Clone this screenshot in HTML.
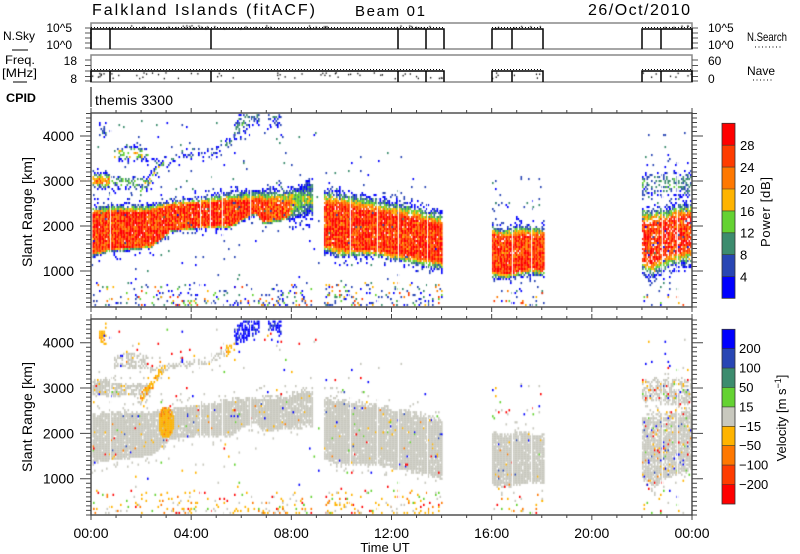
<!DOCTYPE html>
<html><head><meta charset="utf-8">
<style>
html,body{margin:0;padding:0;background:#fff;}
#wrap{position:relative;width:800px;height:554px;overflow:hidden;background:#fff;}
canvas,svg{position:absolute;left:0;top:0;}
text{font-family:"Liberation Sans",sans-serif;fill:#000;}
</style></head><body>
<div id="wrap">
<canvas id="c" width="800" height="554"></canvas>
<svg id="s" width="800" height="554" viewBox="0 0 800 554" xmlns="http://www.w3.org/2000/svg">
<text x="92" y="15" font-size="16" textLength="223" lengthAdjust="spacing">Falkland Islands (fitACF)</text>
<text x="355" y="16" font-size="15" textLength="70" lengthAdjust="spacing">Beam 01</text>
<text x="588" y="15" font-size="16" textLength="102" lengthAdjust="spacing">26/Oct/2010</text>

<rect x="91" y="23" width="601" height="26" fill="none" stroke="#888" stroke-width="1.5"/>
<rect x="91" y="55" width="601" height="27" fill="none" stroke="#888" stroke-width="1.5"/>
<path d="M85 28H91M85 33H91M85 38H91M85 43H91M85 48H91M692 28H698M692 33H698M692 38H698M692 43H698M692 48H698M85 60H91M85 65.5H91M85 71H91M85 76.5H91M85 81H91M692 60H698M692 65.5H698M692 71H698M692 76.5H698M692 81H698" stroke="#555" stroke-width="1"/>
<path d="M91 49V29H444V49M110 29V49M211 29V49M398 29V49M426 29V49M492 49V29H543V49M512 29V49M642 49V29H692V49M661 29V49" fill="none" stroke="#000" stroke-width="1.5"/>
<path d="M91 82V71H444V82M110 71V82M211 71V82M398 71V82M426 71V82M492 82V71H543V82M512 71V82M642 82V71H692V82M661 71V82" fill="none" stroke="#000" stroke-width="1.5"/>
<path d="M91 27.5H444M492 27.5H543M642 27.5H692M91 69.5H444M492 69.5H543M642 69.5H692" fill="none" stroke="#000" stroke-width="1" stroke-dasharray="1,2"/>

<text x="72" y="32" font-size="12" text-anchor="end">10^5</text>
<text x="72" y="49" font-size="12" text-anchor="end">10^0</text>
<text x="708" y="32" font-size="12">10^5</text>
<text x="708" y="49" font-size="12">10^0</text>
<text x="77" y="65" font-size="12" text-anchor="end">18</text>
<text x="77" y="83" font-size="12" text-anchor="end">8</text>
<text x="708" y="65" font-size="12">60</text>
<text x="708" y="83" font-size="12">0</text>

<text x="3" y="40" font-size="12" textLength="32" lengthAdjust="spacingAndGlyphs">N.Sky</text>
<line x1="12" y1="50" x2="28" y2="50" stroke="#000" stroke-width="1"/>
<text x="5" y="64" font-size="12" textLength="30" lengthAdjust="spacingAndGlyphs">Freq.</text>
<text x="2" y="77" font-size="12" textLength="35" lengthAdjust="spacingAndGlyphs">[MHz]</text>
<line x1="13" y1="82" x2="27" y2="82" stroke="#000" stroke-width="1"/>
<text x="6" y="102" font-size="12" font-weight="bold" textLength="30" lengthAdjust="spacingAndGlyphs">CPID</text>
<line x1="91" y1="87" x2="91" y2="107" stroke="#000" stroke-width="1"/>
<text x="95" y="105" font-size="14" textLength="78" lengthAdjust="spacing">themis 3300</text>

<text x="747" y="41" font-size="12" textLength="40" lengthAdjust="spacingAndGlyphs">N.Search</text>
<line x1="755" y1="47" x2="783" y2="47" stroke="#000" stroke-width="1" stroke-dasharray="1,2.5"/>
<text x="747" y="75" font-size="12" textLength="28" lengthAdjust="spacingAndGlyphs">Nave</text>
<line x1="753" y1="80" x2="773" y2="80" stroke="#000" stroke-width="1" stroke-dasharray="1,2.5"/>

<rect x="91" y="113" width="601" height="194" fill="none" stroke="#444" stroke-width="1.4"/>
<rect x="91" y="319" width="601" height="196" fill="none" stroke="#444" stroke-width="1.4"/>
<path id="tk" d="" stroke="#444" stroke-width="1" fill="none"/>

<g font-size="14" text-anchor="end">
<text x="74" y="141">4000</text>
<text x="74" y="186">3000</text>
<text x="74" y="231">2000</text>
<text x="74" y="276">1000</text>
<text x="74" y="347.7">4000</text>
<text x="74" y="393">3000</text>
<text x="74" y="438.4">2000</text>
<text x="74" y="483.7">1000</text>
</g>
<text transform="translate(32,212) rotate(-90)" font-size="14" text-anchor="middle" textLength="110" lengthAdjust="spacing">Slant Range [km]</text>
<text transform="translate(32,417) rotate(-90)" font-size="14" text-anchor="middle" textLength="110" lengthAdjust="spacing">Slant Range [km]</text>

<g font-size="14" text-anchor="middle">
<text x="91" y="538">00:00</text>
<text x="191.2" y="538">04:00</text>
<text x="291.3" y="538">08:00</text>
<text x="391.5" y="538">12:00</text>
<text x="491.7" y="538">16:00</text>
<text x="591.8" y="538">20:00</text>
<text x="692" y="538">00:00</text>
</g>
<text x="385" y="552" font-size="13" text-anchor="middle">Time UT</text>

<rect x="722" y="123.3" width="13" height="21.9" fill="#ff0000"/>
<rect x="722" y="145.2" width="13" height="21.9" fill="#ff3c00"/>
<rect x="722" y="167.1" width="13" height="21.9" fill="#ff7800"/>
<rect x="722" y="189" width="13" height="21.9" fill="#ffb400"/>
<rect x="722" y="210.9" width="13" height="21.9" fill="#64d232"/>
<rect x="722" y="232.8" width="13" height="21.9" fill="#3c8c6e"/>
<rect x="722" y="254.7" width="13" height="21.9" fill="#2846b4"/>
<rect x="722" y="276.6" width="13" height="21.7" fill="#0000ff"/>
<path d="M722 145.2H735M722 167.1H735M722 189H735M722 210.9H735M722 232.8H735M722 254.7H735M722 276.6H735" stroke="#333" stroke-width="0.6"/>
<rect x="722" y="123.3" width="13" height="175" fill="none" stroke="#333" stroke-width="0.8"/>
<g font-size="13">
<text x="740" y="150">28</text>
<text x="740" y="172">24</text>
<text x="740" y="194">20</text>
<text x="740" y="216">16</text>
<text x="740" y="237.5">12</text>
<text x="740" y="259.5">8</text>
<text x="740" y="281.5">4</text>
</g>
<text transform="translate(770,212) rotate(-90)" font-size="13" text-anchor="middle" textLength="70" lengthAdjust="spacing">Power [dB]</text>

<rect x="722" y="329.3" width="13" height="19.5" fill="#0000ff"/>
<rect x="722" y="348.7" width="13" height="19.5" fill="#2846b4"/>
<rect x="722" y="368.1" width="13" height="19.5" fill="#3c8c6e"/>
<rect x="722" y="387.5" width="13" height="19.5" fill="#64d232"/>
<rect x="722" y="406.9" width="13" height="19.5" fill="#c8c8be"/>
<rect x="722" y="426.3" width="13" height="19.5" fill="#ffb400"/>
<rect x="722" y="445.7" width="13" height="19.5" fill="#ff7800"/>
<rect x="722" y="465.1" width="13" height="19.5" fill="#ff3c00"/>
<rect x="722" y="484.5" width="13" height="19.5" fill="#ff0000"/>
<path d="M722 348.7H735M722 368.1H735M722 387.5H735M722 406.9H735M722 426.3H735M722 445.7H735M722 465.1H735M722 484.5H735" stroke="#333" stroke-width="0.6"/>
<rect x="722" y="329.3" width="13" height="174.7" fill="none" stroke="#333" stroke-width="0.8"/>
<g font-size="13">
<text x="739" y="353.2">200</text>
<text x="739" y="372.6">100</text>
<text x="739" y="392">50</text>
<text x="739" y="411.4">15</text>
<text x="739" y="430.8">−15</text>
<text x="739" y="450.2">−50</text>
<text x="739" y="469.6">−100</text>
<text x="739" y="489">−200</text>
</g>
<text transform="translate(786,418) rotate(-90)" font-size="13" text-anchor="middle">Velocity [m s<tspan dy="-5" font-size="9">−1</tspan><tspan dy="5">]</tspan></text>
</svg>
</div>
<script>
(function(){
var cv=document.getElementById('c'),ctx=cv.getContext('2d');
var s=2463534242;
function R(){s^=(s<<13);s>>>=0;s^=(s>>>17);s^=(s<<5);s>>>=0;return s/4294967296;}
var PC=['#0000ff','#2846b4','#3c8c6e','#64d232','#ffb400','#ff7800','#ff3c00','#ff0000'];
var GRAY='#c8c8be';
var DOTC=['#ffb400','#ffb400','#ffb400','#ff7800','#64d232','#0000ff','#ff0000','#2846b4'];
function p2y(y){return 342.7+(y-136)*1.007;}
function cell1(x,y,c){if(x<91.5||x>690.5||y<113.5||y>304.8)return;ctx.fillStyle=c;ctx.fillRect(x,y,1.6,2.1);}
function cell2(x,y,c){var yy=p2y(y);if(x<91.5||x>690.5||yy<319.5||yy>512.8)return;ctx.fillStyle=c;ctx.fillRect(x,yy,1.6,2.2);}
function interp(pts,x){
  for(var i=0;i<pts.length-1;i++){
    if(x<=pts[i+1][0]){var a=pts[i],b=pts[i+1],t=(x-a[0])/(b[0]-a[0]);if(t<0)t=0;var r=[];for(var k=1;k<6;k++)r.push(a[k]+(b[k]-a[k])*t);return r;}
  }
  return pts[pts.length-1].slice(1);
}
function band(sg){
  var pts=sg.pts,x0=pts[0][0],x1=pts[pts.length-1][0];
  var d1=sg.d1||1,d2=sg.d2||1;
  for(var x=x0;x<=x1;x+=1.5){
    var q=interp(pts,x),ot=q[0],rt=q[1],rb=q[2],ob=q[3],pk=q[4];
    var ys=Math.floor((ot-8)/2)*2;
    for(var y=ys;y<=ob+8;y+=2){
      var pres,v,p2p;
      if(y<ot||y>ob){var d=y<ot?ot-y:y-ob;pres=0.14*(1-d/9);v=R()*0.2;p2p=0.05;}
      else if(y>=rt&&y<=rb){pres=0.98;v=pk*(0.62+0.45*R());p2p=0.95;}
      else{var t=y<rt?(y-ot)/Math.max(0.5,rt-ot):(ob-y)/Math.max(0.5,ob-rb);pres=t<0.2?0.45:(t<0.5?0.8:0.93);v=pk*t*0.95+(R()-0.5)*0.3;p2p=t<0.2?0.4:0.93;}
      var r=R();
      if(r<pres*d1){var idx=Math.floor(v*8);if(idx<0)idx=0;if(idx>7)idx=7;cell1(x,y,PC[idx]);}
      if(R()<p2p*d2){var c;
        if(sg.p2==='gray'){c=R()<(sg.dot||0.03)?DOTC[Math.floor(R()*DOTC.length)]:GRAY;}
        else if(sg.p2==='orange'){c=R()<0.85?'#ffb400':'#ff7800';}
        else{c=R()<0.8?'#0000ff':'#2846b4';}
        cell2(x,y,c);
      }
    }
  }
}
var segs=[
 {pts:[[91,205,215,250,257,1],[109,203,213,247,252,1],[150,203,212,244,248,1],[160,201,209,238,241,1],[170,199,206,229,231,1],[200,196,204,225,228,1],[230,190,202,224,228,1],[244,189,203,216,219,1],[255,189,201,210,214,1],[262,188,203,220,224,1],[286,186,205,216,220,0.95],[295,183,200,200,222,0.55],[312,178,198,198,218,0.5]],p2:'gray',dot:0.03},
 {pts:[[324,188,205,243,252,1],[340,190,207,246,258,1],[370,195,212,248,256,1],[400,200,218,252,262,1],[420,204,222,255,266,1],[442,210,228,258,272,1]],p2:'gray',dot:0.03},
 {pts:[[492,223,235,268,278,1],[505,226,240,272,279,1],[515,222,237,270,277,1],[530,224,236,265,275,1],[543,225,236,268,276,1]],p2:'gray',dot:0.03},
 {pts:[[642,205,225,258,272,1],[650,205,225,258,281,1],[665,205,222,252,271,1],[680,200,218,248,266,1],[692,200,218,245,266,1]],p2:'gray',dot:0.07,d1:0.85,d2:0.9},
 {pts:[[91,172,178,182,188,0.75],[110,172,178,182,188,0.75]],p2:'gray',dot:0.05,d1:0.65,d2:0.9},
 {pts:[[110,174,180,180,188,0.5],[150,176,182,182,190,0.45]],p2:'gray',dot:0.05,d1:0.35,d2:0.8},
 {pts:[[114,147,152,155,160,0.55],[130,144,150,154,160,0.65],[148,148,152,154,160,0.5]],p2:'gray',dot:0.05,d1:0.4,d2:0.6},
 {pts:[[140,185,189,191,195,0.55],[165,153,157,159,163,0.55]],p2:'orange',d1:0.45,d2:0.6},
 {pts:[[150,158,162,162,166,0.25],[175,154,158,158,162,0.25],[200,150,154,154,158,0.25],[215,146,150,150,154,0.25],[226,139,143,143,147,0.3]],p2:'gray',dot:0.03,d1:0.3,d2:0.45},
 {pts:[[226,138,143,143,148,0.3],[234,133,138,138,143,0.3]],p2:'orange',d1:0.4,d2:0.6},
 {pts:[[234,120,128,130,140,0.35],[245,108,114,118,135,0.35],[258,108,112,114,125,0.3]],p2:'blue',d1:0.45,d2:0.7},
 {pts:[[268,108,113,115,123,0.3],[280,108,113,115,128,0.3]],p2:'blue',d1:0.4,d2:0.6},
 {pts:[[99,122,128,130,137,0.25],[105,122,128,130,137,0.25]],p2:'orange',d1:0.45,d2:0.7},
 {pts:[[642,172,180,185,195,0.4],[692,168,178,185,198,0.35]],p2:'gray',dot:0.15,d1:0.35,d2:0.6}
];
for(var i=0;i<segs.length;i++)band(segs[i]);
function scat(x0,x1,y0,y1,n,c1,c2,bias){
  for(var i=0;i<n;i++){
    var x=x0+R()*(x1-x0),u=R();if(bias)u=1-u*u;
    var y=y0+u*(y1-y0);y=Math.round(y/2)*2;x=Math.round(x/1.5)*1.5;
    if(c1)cell1(x,y,c1[Math.floor(R()*c1.length)]);
    if(c2&&R()<0.8)cell2(x,y,c2[Math.floor(R()*c2.length)]);
  }
}
var B1=['#0000ff','#0000ff','#2846b4','#2846b4','#2846b4','#3c8c6e','#64d232','#ffb400','#ff7800','#ff3c00'];
var B2=['#ffb400','#ffb400','#ffb400','#c8c8be','#c8c8be','#64d232','#ff7800','#ff0000'];
scat(91,312,282,306,260,B1,B2,true);
scat(324,442,282,306,180,B1,B2,true);
scat(492,543,285,306,40,B1,B2,true);
scat(642,692,290,306,15,B1,B2,true);
var S1=['#0000ff','#2846b4','#2846b4','#3c8c6e'];
var S2=['#c8c8be','#c8c8be','#ffb400','#64d232','#ff0000','#0000ff'];
scat(91,320,118,280,120,S1,S2,false);
scat(324,442,150,290,50,S1,S2,false);
scat(492,543,175,210,25,S1,S2,false);
scat(642,692,130,290,70,S1,S2,false);
for(var x=157.5;x<=174;x+=1.5){for(var y=196;y<=232;y+=2){var dx=(x-165.5)/8,dy=(y-214)/16;if(dx*dx+dy*dy<1&&R()<0.93)cell2(x,y,R()<0.9?'#ffb400':'#ff7800');}}
ctx.fillStyle='#fff';
var wl=[110,200,210,222,250,350,377,398,427,512,531,662,677];
for(var i=0;i<wl.length;i++){ctx.fillRect(wl[i],114,1,192);ctx.fillRect(wl[i],320,1,194);}
ctx.fillStyle='#000';
var rg=[[91,444],[492,543],[642,692]];
for(var k=0;k<rg.length;k++){var a=rg[k][0],b=rg[k][1],n=Math.round((b-a)/8);
  for(var i=0;i<n;i++){ctx.fillRect(a+R()*(b-a),25+R()*3,1.2,1.5);}
  for(var i=0;i<n*1.3;i++){ctx.fillRect(a+R()*(b-a),72+R()*6,1.2,1.5);}
}
var d='';
for(var k=0;k<=43;k++){var km=4500-100*k;var y1=113.5+4.5*k;var y2=342.7+(4000-km)*0.04533;var L=(km%1000===0)?11:5;
  d+='M91 '+y1+'h-'+L+'M692 '+y1+'h'+L+'M91 '+y2.toFixed(2)+'h-'+L+'M692 '+y2.toFixed(2)+'h'+L;}
for(var h=0;h<=24;h++){var x=(91+h*25.042).toFixed(2);var L=(h%4===0)?5:3;
  d+='M'+x+' 113v-'+L+'M'+x+' 307v'+L+'M'+x+' 319v-'+L+'M'+x+' 515v'+L;}
document.getElementById('tk').setAttribute('d',d);
})();
</script>
</body></html>
